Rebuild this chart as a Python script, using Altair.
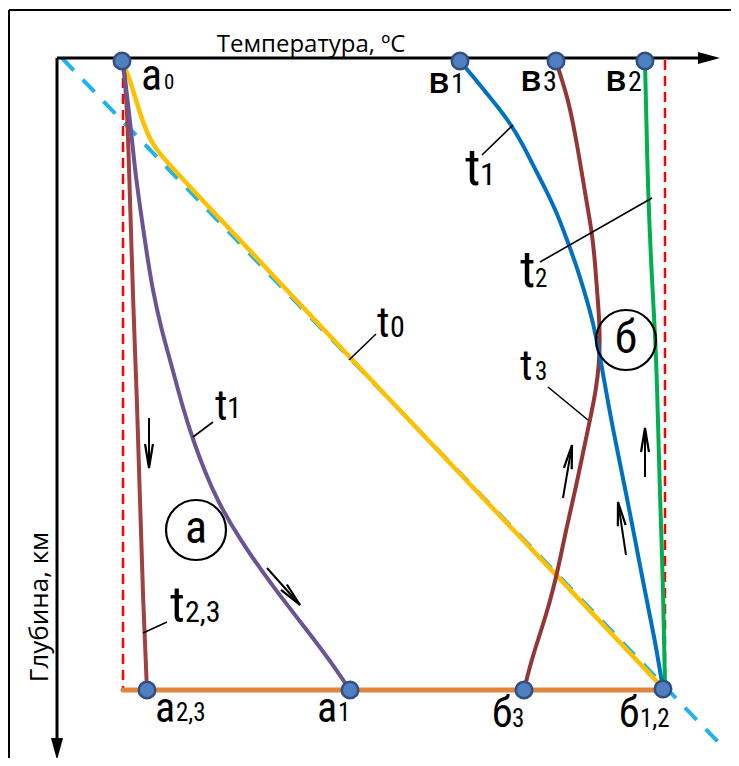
import altair as alt
import pandas as pd

# ---------------- data (picture units: x = temperature position, y = depth position) ----------------
T0_X = [122, 126, 130, 135, 140, 146, 152, 160, 168, 190, 287, 350, 580, 663]
T0_Y = [62, 70, 80, 97, 113, 130, 143, 154, 163, 187, 290, 358, 600, 688]

T1A_X = [123, 127, 131, 135, 140, 146, 152, 161, 172, 182, 193, 205, 217, 240, 273, 320, 335, 350]
T1A_Y = [62, 95, 130, 170, 207, 248, 287, 328, 367, 405, 440, 472, 500, 540, 587, 647, 668, 690]

T23A_X = [123, 127, 130, 133, 137, 140, 143, 147]
T23A_Y = [62, 100, 200, 300, 400, 500, 600, 690]

T1B_X = [460, 480, 497, 510, 522, 533, 545, 557, 567, 577, 590, 597, 605, 613, 627, 643, 655, 663]
T1B_Y = [61, 85, 106, 123, 143, 165, 188, 213, 240, 267, 310, 340, 385, 430, 497, 582, 640, 689]

T3B_X = [556, 562, 568, 573, 578, 583, 588, 592, 595, 597, 599, 600, 599, 596, 590, 584, 578, 573, 566,
         560, 553, 546, 538, 531, 524]
T3B_Y = [61, 80, 100, 123, 150, 180, 210, 233, 262, 290, 315, 340, 365, 390, 420, 448, 477, 500, 530,
         560, 590, 615, 640, 662, 690]

T2B_X = [645, 648, 652, 655, 657, 660, 663, 665]
T2B_Y = [61, 197, 280, 333, 380, 500, 580, 689]

GEO_X = [62, 718]          # cyan dashed geotherm
GEO_Y = [58, 742]

BOTTOM_X = [123, 666]      # orange bottom line
BOTTOM_Y = [690, 690]

RED_L_X = [123, 123]
RED_L_Y = [62, 692]
RED_R_X = [665, 665]
RED_R_Y = [60, 689]

DOT_X = [122, 460, 556, 645, 147, 350, 524, 663]
DOT_Y = [61, 61, 61, 61, 690, 690, 690, 689]

# axes
AXIS_H = dict(x=57, y=58, x2=708, y2=58)
AXIS_V = dict(x=57, y=58, x2=57, y2=740)
HEAD_X = [709, 57]
HEAD_Y = [58, 749]
HEAD_ANGLE = [0, 90]

# frame (left and top edges)
FRAME = [dict(x=9, y=10, x2=731, y2=10), dict(x=9, y=10, x2=9, y2=758)]

# small flow arrows: shaft start -> tip
ARROW_X1 = [149, 267, 563, 626, 645]
ARROW_Y1 = [418, 568, 498, 555, 477]
ARROW_X2 = [149, 300, 572, 618, 645]
ARROW_Y2 = [468, 605, 445, 502, 428]
ARROW_ANGLE = [180, 138, 10, 351, 0]

# leader lines
LEAD_X1 = [482, 540, 349, 193, 143, 548]
LEAD_Y1 = [155, 262, 360, 437, 633, 387]
LEAD_X2 = [513, 652, 376, 213, 167, 588]
LEAD_Y2 = [125, 198, 334, 422, 622, 420]

# circles
CIRC_X = [196, 626]
CIRC_Y = [530, 340]
CIRC_TXT = ["а", "б"]

# labels: main glyph
MAIN_TXT = ["а", "а", "а", "б", "б", "t", "t", "t", "t", "t", "t"]
MAIN_X = [141, 155, 317, 492, 619, 465, 520, 377, 215, 170, 520]
MAIN_Y = [90, 722, 722, 727, 727, 185, 287, 337, 420, 622, 380]
MAIN_FS = [44, 42, 42, 42, 42, 52, 52, 42, 42, 50, 42]

SUB_TXT = ["0", "2,3", "1", "3", "1,2", "1", "2", "0", "1", "2,3", "3"]
SUB_X = [164, 176, 338, 512, 640, 480, 535, 390, 227, 185, 535]
SUB_Y = [89, 721, 721, 727, 727, 185, 287, 337, 418, 622, 380]
SUB_FS = [21, 25, 25, 25, 25, 32, 25, 30, 29, 30, 25]

V_TXT = ["в", "в", "в"]
V_X = [428, 520, 605]
V_Y = [93, 91, 91]
V_SUB = ["1", "3", "2"]
V_SUB_X = [451, 543, 628]

TITLE_X = "Температура, ºC"
TITLE_Y = "Глубина, км"

# ---------------- helpers ----------------
XS = alt.Scale(domain=[8, 731], nice=False, zero=False)
YS = alt.Scale(domain=[8, 758], nice=False, zero=False, reverse=True)
FONT = "Liberation Sans Narrow, Roboto Condensed, Roboto, sans-serif"


def X(f="x"):
    return alt.X(f"{f}:Q", scale=XS, axis=None)


def Y(f="y"):
    return alt.Y(f"{f}:Q", scale=YS, axis=None)


def curve(xs, ys, color, width=4, dash=None, interp="basis"):
    df = pd.DataFrame({"x": xs, "y": ys, "i": list(range(len(xs)))})
    kw = dict(color=color, strokeWidth=width, interpolate=interp, strokeCap="round")
    if dash:
        kw["strokeDash"] = dash
        kw["strokeCap"] = "butt"
    return alt.Chart(df).mark_line(**kw).encode(x=X(), y=Y(), order="i:Q")


def rules(rows, color="black", width=2):
    df = pd.DataFrame(rows)
    return alt.Chart(df).mark_rule(color=color, strokeWidth=width).encode(
        x=X(), y=Y(), x2="x2:Q", y2="y2:Q")


layers = []
# frame
layers.append(rules(FRAME, width=2))
# dashed geotherm and red verticals
layers.append(curve(GEO_X, GEO_Y, "#1eb4ea", 4, dash=[17, 13], interp="linear"))
layers.append(curve(RED_L_X, RED_L_Y, "#ff0000", 2.5, dash=[10, 6], interp="linear"))
layers.append(curve(RED_R_X, RED_R_Y, "#ff0000", 2.5, dash=[10, 6], interp="linear"))
# bottom line
layers.append(curve(BOTTOM_X, BOTTOM_Y, "#e0863c", 5, interp="linear"))
# curves
layers.append(curve(T0_X, T0_Y, "#ffc000", 4.5))
layers.append(curve(T23A_X, T23A_Y, "#a04040", 4))
layers.append(curve(T1A_X, T1A_Y, "#6b5494", 4))
layers.append(curve(T2B_X, T2B_Y, "#00b050", 4))
layers.append(curve(T3B_X, T3B_Y, "#943634", 4))
layers.append(curve(T1B_X, T1B_Y, "#0070c0", 4))

# axes
layers.append(rules([AXIS_H, AXIS_V], width=3))
heads = pd.DataFrame({"x": HEAD_X, "y": HEAD_Y, "a": HEAD_ANGLE})
layers.append(alt.Chart(heads).mark_point(
    shape="M -1 -0.55 L 1 0 L -1 0.55 Z", filled=True, color="black", size=484, opacity=1
).encode(x=X(), y=Y(), angle=alt.Angle("a:Q", scale=None)))

# leader lines
lead = pd.DataFrame({"x": LEAD_X1, "y": LEAD_Y1, "x2": LEAD_X2, "y2": LEAD_Y2})
layers.append(alt.Chart(lead).mark_rule(color="black", strokeWidth=1.6).encode(
    x=X(), y=Y(), x2="x2:Q", y2="y2:Q"))

# flow arrows
arr = pd.DataFrame({"x": ARROW_X1, "y": ARROW_Y1, "x2": ARROW_X2, "y2": ARROW_Y2, "a": ARROW_ANGLE})
layers.append(alt.Chart(arr).mark_rule(color="black", strokeWidth=2).encode(
    x=X(), y=Y(), x2="x2:Q", y2="y2:Q"))
layers.append(alt.Chart(arr).mark_point(
    shape="M -0.33 2 L 0 0 L 0.33 2", filled=False, color="black", strokeWidth=2.2, size=576, opacity=1
).encode(x=X("x2"), y=Y("y2"), angle=alt.Angle("a:Q", scale=None)))

# circles
circ = pd.DataFrame({"x": CIRC_X, "y": CIRC_Y, "t": CIRC_TXT})
layers.append(alt.Chart(circ).mark_point(
    shape="circle", filled=False, color="black", strokeWidth=2.2, size=3600, opacity=1
).encode(x=X(), y=Y()))
layers.append(alt.Chart(circ).mark_text(
    font=FONT, fontSize=46, align="center", baseline="middle", color="black", dy=-1
).encode(x=X(), y=Y(), text="t:N"))

# dots
dots = pd.DataFrame({"x": DOT_X, "y": DOT_Y})
layers.append(alt.Chart(dots).mark_point(
    shape="circle", filled=True, fill="#4f7fbf", stroke="#2e4f80", strokeWidth=2.5, size=272, opacity=1
).encode(x=X(), y=Y()))

# labels
main = pd.DataFrame({"x": MAIN_X, "y": MAIN_Y, "t": MAIN_TXT, "fs": MAIN_FS})
layers.append(alt.Chart(main).mark_text(
    font=FONT, align="left", baseline="alphabetic", color="black"
).encode(x=X(), y=Y(), text="t:N", size=alt.Size("fs:Q", scale=None)))
sub = pd.DataFrame({"x": SUB_X, "y": SUB_Y, "t": SUB_TXT, "fs": SUB_FS})
layers.append(alt.Chart(sub).mark_text(
    font=FONT, align="left", baseline="alphabetic", color="black"
).encode(x=X(), y=Y(), text="t:N", size=alt.Size("fs:Q", scale=None)))

vlab = pd.DataFrame({"x": V_X, "y": V_Y, "t": V_TXT})
layers.append(alt.Chart(vlab).mark_text(
    font="Open Sans", fontSize=36, fontWeight=600, align="left", baseline="alphabetic", color="black"
).encode(x=X(), y=Y(), text="t:N"))
vsub = pd.DataFrame({"x": V_SUB_X, "y": V_Y, "t": V_SUB})
layers.append(alt.Chart(vsub).mark_text(
    font=FONT, fontSize=28, align="left", baseline="alphabetic", color="black"
).encode(x=X(), y=Y(), text="t:N"))

# axis titles
tx = pd.DataFrame({"x": [311], "y": [52], "t": [TITLE_X]})
layers.append(alt.Chart(tx).mark_text(
    font="Open Sans", fontSize=24, align="center", baseline="alphabetic", color="black"
).encode(x=X(), y=Y(), text="t:N"))
ty = pd.DataFrame({"x": [40], "y": [607], "t": [TITLE_Y]})
layers.append(alt.Chart(ty).mark_text(
    font="Open Sans", fontSize=26, align="center", baseline="middle", angle=270, color="black"
).encode(x=X(), y=Y(), text="t:N"))

chart = alt.layer(*layers).properties(
    width=723, height=750, padding=0, autosize=alt.AutoSizeParams(type="none"),
    background="white"
).configure_view(strokeWidth=0)

chart.save("out.html", embed_options={"renderer": "svg", "actions": False})
